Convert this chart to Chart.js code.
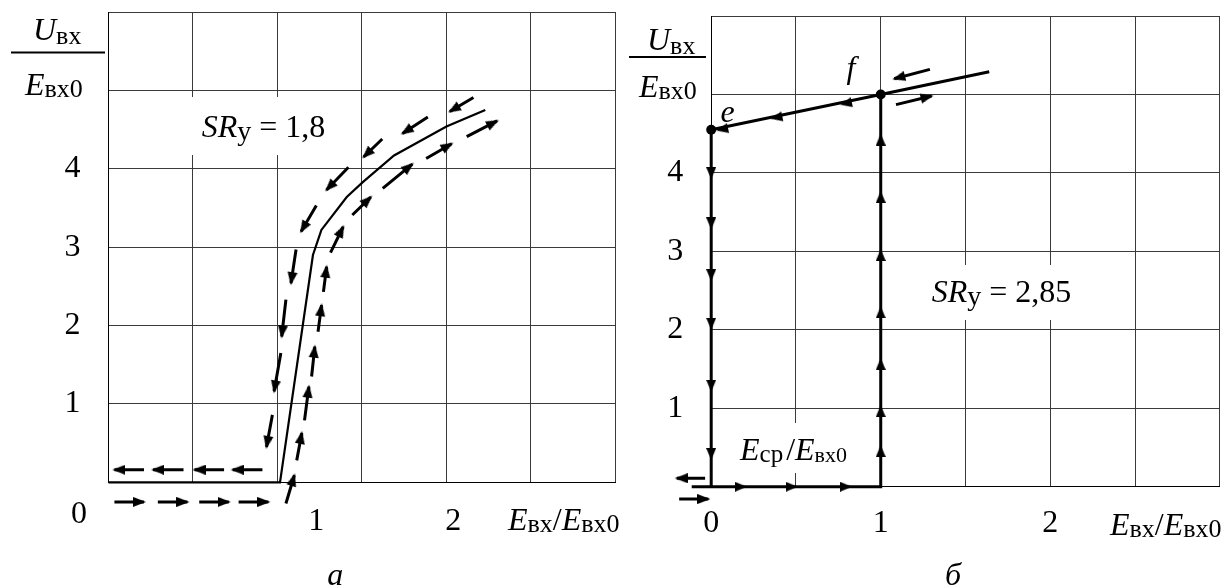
<!DOCTYPE html>
<html lang="ru">
<head>
<meta charset="utf-8">
<title>SR</title>
<script src="https://cdn.jsdelivr.net/npm/chart.js@4.4.1/dist/chart.umd.min.js"></script>
<style>
  html, body { margin: 0; padding: 0; background: #fff; }
  #wrap { position: relative; width: 1225px; height: 588px; }
  canvas { position: absolute; top: 0; }
  #chartA { left: 0; }
  #chartB { left: 620px; }
</style>
</head>
<body>
<div id="wrap">
  <canvas id="chartA" width="622" height="588"></canvas>
  <canvas id="chartB" width="605" height="588"></canvas>
</div>
<script>
// --- панель а: SR = 1,8 ---
const curveA = [[0, 0], [1.015, 0], [1.21, 2.9], [1.26, 3.22], [1.41, 3.64], [1.505, 3.83], [1.69, 4.17], [2.0, 4.54], [2.23, 4.75]];

// стрелки: [x хвоста, y хвоста, x острия, y острия]
const arrowsDownA = [
    [2.16, 4.91, 2.02, 4.73], [1.89, 4.66, 1.74, 4.45], [1.62, 4.38, 1.51, 4.15],
    [1.42, 4.02, 1.29, 3.73], [1.23, 3.53, 1.14, 3.2], [1.11, 2.97, 1.08, 2.54],
    [1.05, 2.33, 1.025, 1.86], [1.02, 1.65, 0.98, 1.16], [0.97, 0.86, 0.935, 0.45]
];
const arrowsLeftA = [
    [0.21, 0.16, 0.035, 0.16], [0.444, 0.16, 0.264, 0.16],
    [0.684, 0.16, 0.509, 0.16], [0.911, 0.16, 0.735, 0.16]
];
const arrowsRightA = [
    [0.035, -0.25, 0.21, -0.25], [0.292, -0.25, 0.467, -0.25],
    [0.537, -0.25, 0.712, -0.25], [0.77, -0.25, 0.946, -0.25]
];
const arrowsUpA = [
    [1.05, -0.27, 1.1, 0.09], [1.114, 0.28, 1.144, 0.63], [1.16, 0.79, 1.186, 1.22],
    [1.202, 1.35, 1.221, 1.73], [1.24, 1.92, 1.261, 2.26], [1.272, 2.43, 1.291, 2.75],
    [1.314, 2.93, 1.389, 3.26], [1.443, 3.41, 1.553, 3.64], [1.623, 3.75, 1.798, 4.06],
    [1.88, 4.13, 2.031, 4.32], [2.12, 4.41, 2.3, 4.61]
];
// подписи оси x панели а: [текст, x, y]
const xLabelsA = [['0', -0.175, -0.52], ['1', 1.23, -0.61], ['2', 2.04, -0.61]];

// --- панель б: SR = 2,85 ---
const pathB1 = [[-0.115, 0], [1, 0], [1, 5.0]];
const pathB2 = [[1.64, 5.29], [1, 5.0], [0, 4.55], [0, 0]];
const pointsEF = [[0, 4.55], [1, 5.0]];
const downHeadsB = [3.92, 3.28, 2.62, 2.0, 1.21, 0.34];      // на x = 0
const upHeadsB = [4.5, 3.77, 3.03, 2.3, 1.64, 1.04, 0.53];   // на x = 1
const rightHeadsB = [0.21, 0.51, 0.83];                        // на y = 0
const slopeHeadsB = [[0.76, 4.87], [0.35, 4.69], [0.03, 4.54]];
const arrowsB = [
    [1.29, 5.32, 1.08, 5.2], [1.09, 4.87, 1.3, 4.98],
    [-0.036, 0.107, -0.203, 0.107], [-0.189, -0.157, -0.017, -0.157]
];
const xTicksB = [0, 1, 2];
const yTicks = [1, 2, 3, 4];

const FONT = '"Liberation Serif", "Times New Roman", serif';
const GRID = '#3a3a3a';
const SUB = 26;

// наконечник стрелки (остриё смотрит вправо)
function headImage(len, wid, over) {
    const c = document.createElement('canvas');
    const half = len - over;
    c.width = 2 * half;
    c.height = wid;
    const g = c.getContext('2d');
    g.fillStyle = '#000';
    g.beginPath();
    g.moveTo(0, 0);
    g.lineTo(len, wid / 2);
    g.lineTo(0, wid);
    g.closePath();
    g.fill();
    return c;
}
const HEAD_A = headImage(13, 10, 2);
const HEAD_B = headImage(12, 10, 0);

function pixelAngle(chart, dx, dy) {
    const sx = chart.scales.x, sy = chart.scales.y;
    if (!sx || !sy) return 0;
    const px = dx * (sx.getPixelForValue(1) - sx.getPixelForValue(0));
    const py = dy * (sy.getPixelForValue(1) - sy.getPixelForValue(0));
    return Math.atan2(py, px) * 180 / Math.PI;
}

function toXY(arr) {
    return arr.map(p => ({ x: p[0], y: p[1] }));
}

function solidSet(points, width) {
    return {
        data: toXY(points),
        borderColor: '#000', borderWidth: width, borderJoinStyle: 'miter',
        pointRadius: 0, clip: false
    };
}

// штриховая линия из стрелок: хвост, остриё, разрыв
function arrowSet(pairs, head) {
    const data = [];
    pairs.forEach(p => data.push({ x: p[0], y: p[1] }, { x: p[2], y: p[3] }, { x: null, y: null }));
    return {
        data: data,
        borderColor: '#000', borderWidth: 3, borderCapStyle: 'butt',
        spanGaps: false, clip: false,
        pointStyle: head,
        pointRadius: c => (c.dataIndex % 3 === 1 ? 40 : 0),
        pointRotation: c => {
            if (c.dataIndex % 3 !== 1) return 0;
            const d = c.dataset.data, a = d[c.dataIndex - 1], b = d[c.dataIndex];
            return pixelAngle(c.chart, b.x - a.x, b.y - a.y);
        }
    };
}

// одиночные наконечники на сплошной линии
function headSet(points, dir) {
    return {
        data: toXY(points),
        showLine: false, clip: false,
        pointStyle: HEAD_B, pointRadius: 40,
        pointRotation: c => pixelAngle(c.chart, dir[0], dir[1])
    };
}

// строка из кусков [текст, размер, курсив, сдвиг вниз]; число = пробел в px
function runs(ctx, x, y, parts) {
    ctx.textAlign = 'left';
    ctx.textBaseline = 'alphabetic';
    for (const p of parts) {
        if (typeof p === 'number') { x += p; continue; }
        const [t, size, it, dy] = p;
        ctx.font = (it ? 'italic ' : '') + size + 'px ' + FONT;
        ctx.fillText(t, x, y + (dy || 0));
        x += ctx.measureText(t).width;
    }
    return x;
}

function fraction(ctx, x0, x1, yLine, ux, uy, ex, ey) {
    runs(ctx, ux, uy, [['U', 32, true], ['вх', SUB, false, 4]]);
    ctx.fillRect(x0, yLine - 1, x1 - x0, 2);
    runs(ctx, ex, ey, [['E', 32, true], ['вх0', SUB, false, 2]]);
}

function xTitle(ctx, x, y) {
    runs(ctx, x, y, [['E', 32, true], ['вх', SUB, false, 2], ['/', 32, false], ['E', 32, true], ['вх0', SUB, false, 2]]);
}

function textCenter(ctx, t, x, y, italic) {
    ctx.font = (italic ? 'italic ' : '') + '32px ' + FONT;
    ctx.textAlign = 'center';
    ctx.textBaseline = 'alphabetic';
    ctx.fillText(t, x, y);
}

// подписи и белые подложки (координаты страницы)
function annotPlugin(left, boxes, drawTexts) {
    return {
        id: 'annot' + left,
        beforeDatasetsDraw(chart) {
            const ctx = chart.ctx;
            ctx.save();
            ctx.translate(-left, 0);
            ctx.fillStyle = '#fff';
            boxes.forEach(b => ctx.fillRect(b[0], b[1], b[2], b[3]));
            ctx.restore();
        },
        afterDraw(chart) {
            const ctx = chart.ctx;
            ctx.save();
            ctx.translate(-left, 0);
            ctx.fillStyle = '#000';
            drawTexts(ctx, chart);
            ctx.restore();
        }
    };
}

const tickFont = { family: FONT, size: 32, lineHeight: 1 };

function makeOptions(pad, yWidth, showX) {
    return {
        responsive: false,
        animation: false,
        devicePixelRatio: 1,
        events: [],
        layout: { padding: pad, autoPadding: false },
        plugins: { legend: { display: false }, tooltip: { enabled: false } },
        scales: {
            x: {
                type: 'linear', min: 0, max: 3,
                ticks: {
                    display: showX, stepSize: 0.5, autoSkip: false, maxRotation: 0,
                    padding: 21, color: '#000', font: tickFont,
                    callback: v => (xTicksB.includes(v) ? String(v) : '')
                },
                grid: { color: GRID, lineWidth: 1, drawTicks: false },
                border: { display: true, color: '#000', width: 1 },
                afterFit: s => { s.height = 60; s.paddingLeft = 0; s.paddingRight = 0; }
            },
            y: {
                type: 'linear', min: 0, max: 6,
                ticks: {
                    stepSize: 1, autoSkip: false, padding: 28, color: '#000', font: tickFont,
                    callback: v => (yTicks.includes(v) ? String(v) : '')
                },
                grid: { color: GRID, lineWidth: 1, drawTicks: false },
                border: { display: true, color: '#000', width: 1 },
                afterFit: s => { s.width = yWidth; s.paddingTop = 0; s.paddingBottom = 0; }
            }
        }
    };
}

// ---- панель а ----
const annotA = annotPlugin(0, [[188, 97, 152, 58]], (ctx, chart) => {
    fraction(ctx, 11, 105, 52.5, 33, 40, 25, 95);
    runs(ctx, 201.7, 136.7, [['SR', 32, true], ['у', 28, false, 3], [' = 1,8', 32, false]]);
    const sx = chart.scales.x, sy = chart.scales.y;
    xLabelsA.forEach(l => textCenter(ctx, l[0], sx.getPixelForValue(l[1]), sy.getPixelForValue(l[2]), false));
    xTitle(ctx, 508, 530);
    textCenter(ctx, 'а', 335.3, 585, true);
});

new Chart(document.getElementById('chartA'), {
    type: 'line',
    data: {
        datasets: [
            solidSet(curveA, 2.2),
            arrowSet(arrowsDownA, HEAD_A),
            arrowSet(arrowsLeftA, HEAD_A),
            arrowSet(arrowsRightA, HEAD_A),
            arrowSet(arrowsUpA, HEAD_A)
        ]
    },
    options: makeOptions({ left: 8.5, right: 6.6, top: 12, bottom: 45.7 }, 100, false),
    plugins: [annotA]
});

// ---- панель б ----
const annotB = annotPlugin(620, [[925, 265, 180, 55], [733, 423, 125, 50]], (ctx) => {
    fraction(ctx, 629, 706, 57, 647, 50, 639, 97);
    runs(ctx, 931.7, 301.7, [['SR', 32, true], ['у', 28, false, 3], [' = 2,85', 32, false]]);
    runs(ctx, 740, 460, [['E', 32, true], ['ср', 25, false, 2], 3, ['/', 32, false], ['E', 32, true], ['вх0', 22, false, 2]]);
    textCenter(ctx, 'e', 727.6, 122, true);
    textCenter(ctx, 'f', 851, 78, true);
    xTitle(ctx, 1110, 535);
    textCenter(ctx, 'б', 953, 585, true);
});

new Chart(document.getElementById('chartB'), {
    type: 'line',
    data: {
        datasets: [
            solidSet(pathB1, 3),
            solidSet(pathB2, 3),
            headSet(downHeadsB.map(y => [0, y]), [0, -1]),
            headSet(upHeadsB.map(y => [1, y]), [0, 1]),
            headSet(rightHeadsB.map(x => [x, 0]), [1, 0]),
            headSet(slopeHeadsB, [-1, -0.45]),
            arrowSet(arrowsB, HEAD_A),
            {
                data: toXY(pointsEF), showLine: false, clip: false,
                pointRadius: 5, pointStyle: 'circle',
                pointBackgroundColor: '#000', pointBorderWidth: 0
            }
        ]
    },
    options: makeOptions({ left: 11.2, right: 5.2, top: 16, bottom: 41.3 }, 80, true),
    plugins: [annotB]
});
</script>
</body>
</html>
